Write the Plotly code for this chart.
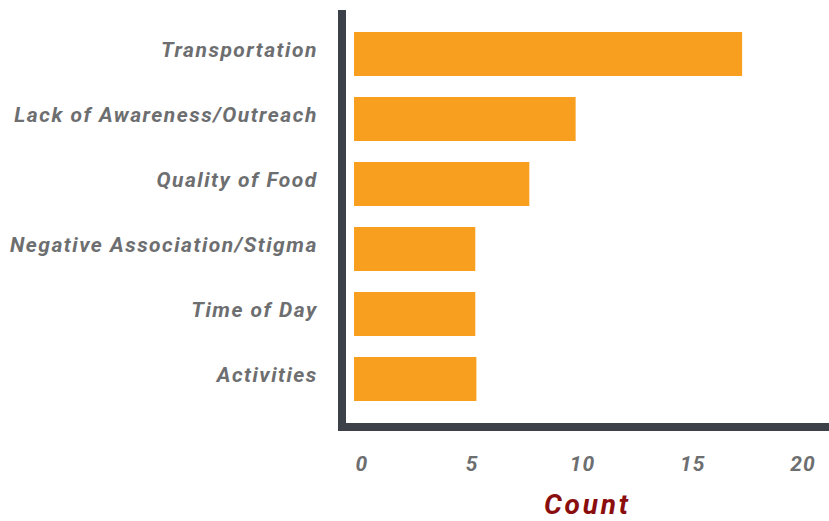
import plotly.graph_objects as go

# Reasons given, top to bottom, with their counts
categories = [
    "Transportation",
    "Lack of Awareness/Outreach",
    "Quality of Food",
    "Negative Association/Stigma",
    "Time of Day",
    "Activities",
]
counts = [17.6, 10.05, 7.95, 5.5, 5.5, 5.55]
tick_values = [0, 5, 10, 15, 20]
tick_labels = ["0", "5", "10", "15", "20"]

BAR = "#F89F1F"
AXIS = "#3C4048"
LABEL = "#6D6E70"
TITLE = "#8A0E0E"
FONT = "Roboto"


def spaced(text, px):
    """Wrap a label in a span with extra letter spacing."""
    return f'<span style="letter-spacing:{px}px">{text}</span>'


fig = go.Figure(
    go.Bar(
        x=counts,
        y=categories,
        orientation="h",
        marker=dict(color=BAR, line=dict(width=0)),
        width=0.677,
        hoverinfo="x+y",
    )
)

fig.update_layout(
    width=829,
    height=521,
    margin=dict(l=346, r=0, t=10, b=98),
    paper_bgcolor="white",
    plot_bgcolor="white",
    showlegend=False,
    font=dict(family=FONT),
)

fig.update_xaxes(
    range=[-0.363, 21.54],
    tickvals=tick_values,
    ticktext=[spaced(t, 1.2) for t in tick_labels],
    ticks="",
    showgrid=False,
    zeroline=False,
    showline=True,
    linecolor=AXIS,
    linewidth=8,
    tickfont=dict(family=FONT, size=21, color=LABEL, weight="bold", style="italic"),
    ticklabelshift=8,
    ticklabelstandoff=15,
)

fig.update_yaxes(
    range=[5.677, -0.677],
    tickvals=categories,
    ticktext=[spaced(c, 1.5) for c in categories],
    ticks="",
    showgrid=False,
    zeroline=False,
    showline=True,
    linecolor=AXIS,
    linewidth=8,
    tickfont=dict(family=FONT, size=21, color=LABEL, weight="bold", style="italic"),
    ticklabelstandoff=16,
    ticklabelshift=4,
)

fig.add_annotation(
    text=spaced("Count", 2.8),
    xref="paper",
    yref="paper",
    x=0.5,
    y=-0.197,
    xanchor="center",
    yanchor="middle",
    showarrow=False,
    font=dict(family=FONT, size=28, color=TITLE, weight="bold", style="italic"),
)

fig.write_html("out.html")
